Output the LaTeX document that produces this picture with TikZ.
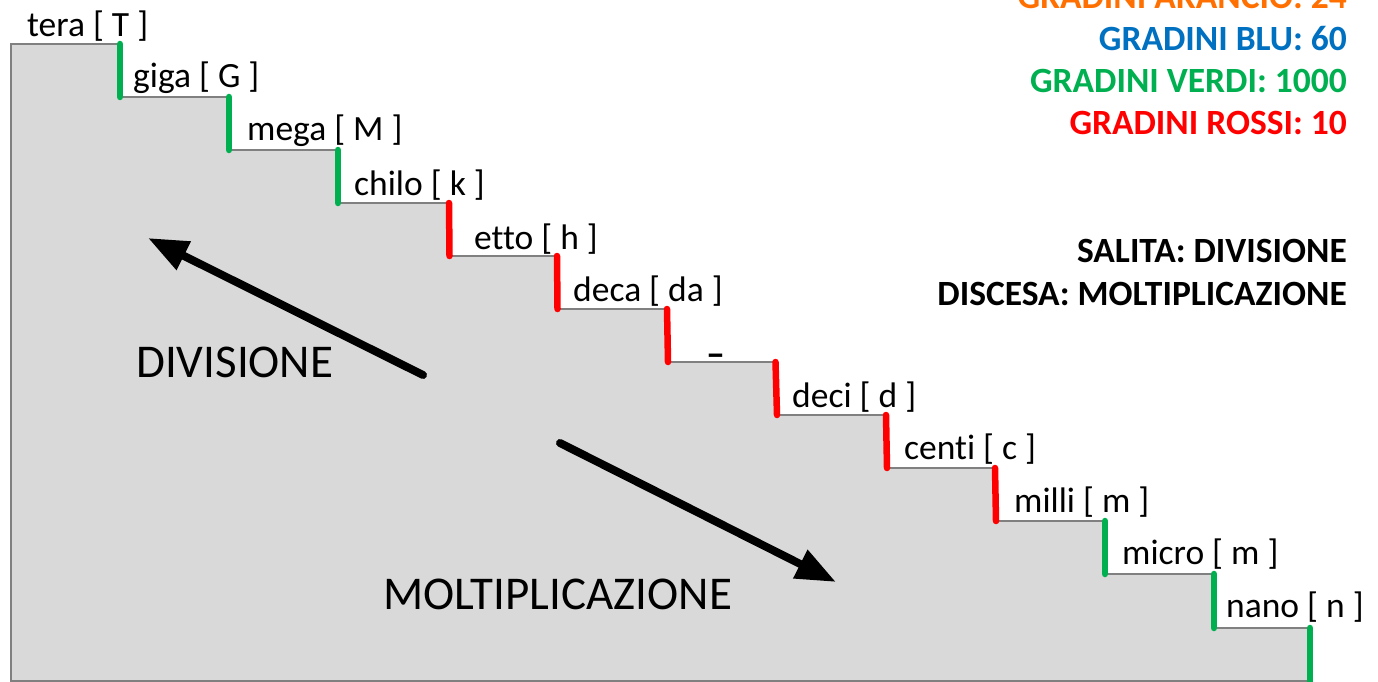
\documentclass[tikz,border=0pt]{standalone}
\usepackage{fontspec}
\setmainfont[Ligatures=NoCommon]{Carlito}
\usetikzlibrary{arrows.meta}
\definecolor{stepgray}{RGB}{217,217,217}
\definecolor{edgegray}{RGB}{128,128,128}
\definecolor{vgreen}{RGB}{0,176,80}
\definecolor{vred}{RGB}{255,0,0}
\definecolor{vblue}{RGB}{0,112,192}
\definecolor{vorange}{RGB}{255,112,0}
\begin{document}
\begin{tikzpicture}[x=1pt,y=-1pt,
  lbl/.style={anchor=base west, inner sep=0pt, font=\fontsize{35.5}{40}\selectfont},
  info/.style={anchor=base east, inner sep=0pt, font=\fontsize{35.5}{40}\selectfont\bfseries},
  big/.style={anchor=base west, inner sep=0pt, font=\fontsize{47}{54}\selectfont},
  riser/.style={line width=6.5pt, line cap=round},
  bigarrow/.style={line width=8pt, line cap=round, -{Triangle[length=40pt,width=30pt]}}]
\useasboundingbox (0,0) rectangle (1378,682);
% staircase
\filldraw[fill=stepgray, draw=edgegray, line width=1.3pt]
  (11,681) -- (11,44) -- (120,44) -- (120,97) -- (229,97) -- (229,150) -- (338,150)
  -- (338,203) -- (449,203) -- (449,256) -- (557,256) -- (557,309) -- (667,309)
  -- (667,362) -- (776,362) -- (776,415) -- (886,415) -- (886,468) -- (995,468)
  -- (995,521) -- (1105,521) -- (1105,574) -- (1214,574) -- (1214,628) -- (1310,628)
  -- (1310,681) -- cycle;
% risers
\draw[riser, vgreen] (120,44) -- (120,97);
\draw[riser, vgreen] (229,97) -- (229,150);
\draw[riser, vgreen] (338,150) -- (338,203);
\draw[riser, vred] (449,203) -- (449.5,256);
\draw[riser, vred] (557,256) -- (557.5,309);
\draw[riser, vred] (667,309) -- (668,362);
\draw[riser, vred] (775.5,362) -- (777,415);
\draw[riser, vred] (886,415) -- (887,468);
\draw[riser, vred] (995,468) -- (996,521);
\draw[riser, vgreen] (1105,521) -- (1105,574);
\draw[riser, vgreen] (1214,574) -- (1214,628);
\draw[riser, vgreen] (1310,628) -- (1310,685);
% labels
\node[lbl] (tera)  at (27,37)    {tera [ T ]};
\node[lbl] (giga)  at (133,88)   {giga [ G ]};
\node[lbl] (mega)  at (247,141)  {mega [ M ]};
\node[lbl] (chilo) at (354,195)  {chilo [ k ]};
\node[lbl] (etto)  at (474,249)  {etto [ h ]};
\node[lbl] (deca)  at (573,301)  {deca [ da ]};
\node[anchor=base, inner sep=0pt, font=\fontsize{38}{40}\selectfont\bfseries] (unit) at (716,366) {–};
\node[lbl] (deci)  at (792,407)  {deci [ d ]};
\node[lbl] (centi) at (904,459)  {centi [ c ]};
\node[lbl] (milli) at (1014,512) {milli [ m ]};
\node[lbl] (micro) at (1122,564) {micro [ m ]};
\node[lbl] (nano)  at (1226,617) {nano [ n ]};
% info
\node[info, text=vorange] (arancio) at (1347,9)   {GRADINI ARANCIO: 24};
\node[info, text=vblue]   (blu)     at (1347,51)  {GRADINI BLU: 60};
\node[info, text=vgreen]  (verdi)   at (1347,93)  {GRADINI VERDI: 1000};
\node[info, text=vred]    (rossi)   at (1347,135) {GRADINI ROSSI: 10};
\node[info] (salita)  at (1347,262) {SALITA: DIVISIONE};
\node[info] (discesa) at (1347,305) {DISCESA: MOLTIPLICAZIONE};
% big labels and arrows
\node[big] (div)  at (136,377) {DIVISIONE};
\node[big] (molt) at (383,609) {MOLTIPLICAZIONE};
\coordinate (d1) at (423,375);
\coordinate (d2) at (148,238);
\coordinate (m1) at (560,443);
\coordinate (m2) at (836,582);
\draw[bigarrow] (d1) -- (d2);
\draw[bigarrow] (m1) -- (m2);
\end{tikzpicture}
\end{document}
